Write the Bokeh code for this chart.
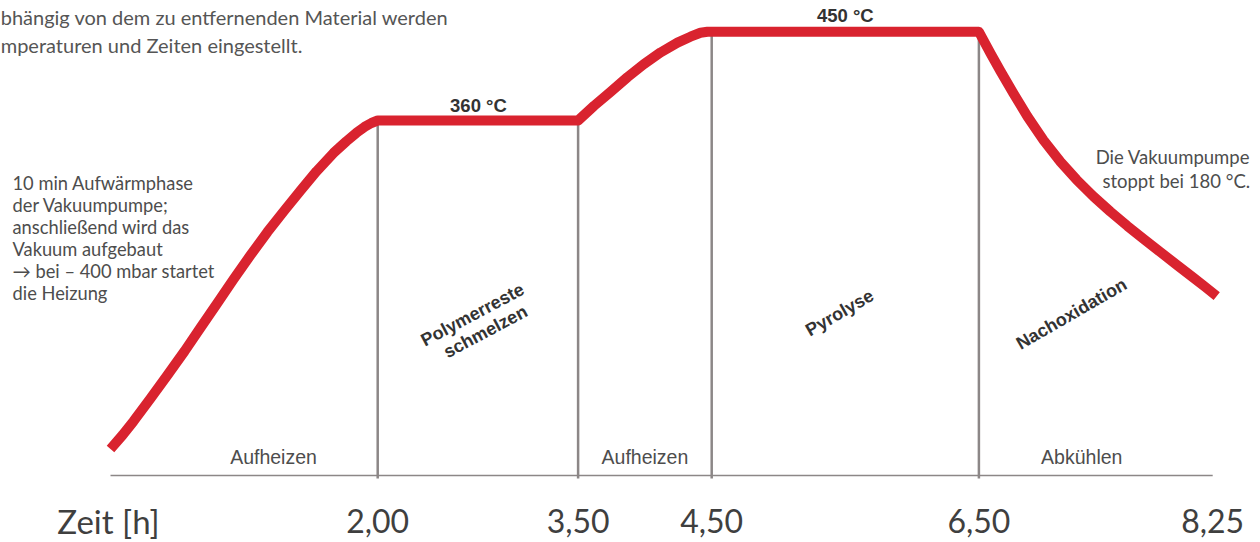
from bokeh.plotting import figure
from bokeh.models import Range1d
from bokeh.core.properties import value
from bokeh.embed import file_html
from bokeh.resources import INLINE
import math

# ---- data ----
time_h = [0.0, 0.09, 0.172, 0.299, 0.427, 0.554, 0.674, 0.801, 0.921, 1.048,
          1.175, 1.303, 1.422, 1.542, 1.669, 1.766, 1.841, 1.901, 1.953, 2.0,
          3.5, 3.62, 3.743, 3.87, 3.99, 4.117, 4.244, 4.341, 4.416, 4.468, 4.5,
          6.5, 6.587, 6.662, 6.759, 6.864, 6.984, 7.111, 7.231, 7.358, 7.485,
          7.612, 7.732, 7.859, 7.987, 8.106, 8.196, 8.28]
temp_c = [27, 41, 55, 78, 102, 126, 150, 175, 199, 223.5,
          247, 269, 289, 308.5, 327, 339, 347.5, 353.5, 357.5, 360,
          360, 375, 389, 404, 417, 429, 439, 445, 449, 450, 450,
          450, 428, 410, 387.5, 364, 340, 318, 300, 283, 267.5,
          253, 240, 226.5, 213, 200.5, 191, 182]

boundaries = [2.0, 3.5, 4.5, 6.5]
boundary_temps = [360, 360, 450, 450]

tick_values = [2.00, 3.50, 4.50, 6.50, 8.25]
tick_labels = ["2,00", "3,50", "4,50", "6,50", "8,25"]
axis_start = 0.0
axis_end = 8.25

plateau_labels = ["360 °C", "450 °C"]
plateau_x = [2.754, 5.5]
plateau_y = [375, 466]

phase_labels = ["Aufheizen", "Aufheizen", "Abkühlen"]
phase_x = [1.22, 4.0, 7.27]

rot_labels = ["Polymerreste", "schmelzen", "Pyrolyse", "Nachoxidation"]
rot_x = [2.71, 2.807, 5.457, 7.193]
rot_y = [163, 146, 165, 164]
rot_deg = [28, 28, 30, 30]

left_note = ["10 min  Aufwärmphase", "der Vakuumpumpe;", "anschließend wird das",
             "Vakuum aufgebaut", "\u2192 bei \u2013 400 mbar startet", "die Heizung"]
right_note = ["Die Vakuumpumpe", "stoppt bei 180 °C."]
top_note = ["bhängig von dem zu entfernenden Material werden",
            "mperaturen und Zeiten eingestellt."]

RED = "#D9232F"
GRAY = "#8c8787"
TXT = "#4d4d4d"
BOLD = "#333333"

p = figure(width=1260, height=542, output_backend="svg", toolbar_location=None,
           x_range=Range1d(-0.8234, 8.6078), y_range=Range1d(-67.9, 481.7),
           min_border=0, x_axis_location=None, y_axis_location=None)
p.grid.visible = False
p.outline_line_color = None
p.background_fill_color = "white"
p.border_fill_color = "white"

# baseline (time axis)
p.segment(x0=[axis_start], y0=[0], x1=[axis_end], y1=[0], line_color=GRAY, line_width=1.6)
# phase boundaries
p.segment(x0=boundaries, y0=[-3] * len(boundaries), x1=boundaries, y1=boundary_temps,
          line_color=GRAY, line_width=2.5)

# temperature curve
p.line(time_h, temp_c, line_color=RED, line_width=10, line_join="round", line_cap="butt")

# plateau labels
p.text(plateau_x, plateau_y, text=plateau_labels, text_font=value("Liberation Sans"),
       text_font_style="bold", text_font_size="18.5px", text_color=BOLD,
       text_align="center", text_baseline="middle")

# phase labels
p.text(phase_x, [19] * 3, text=phase_labels, text_font=value("Liberation Sans"),
       text_font_size="19.5px", text_color=TXT, text_align="center", text_baseline="middle")

# rotated labels
p.text(rot_x, rot_y, text=rot_labels, angle=[math.radians(a) for a in rot_deg],
       text_font=value("Liberation Sans"), text_font_style="bold", text_font_size="18px",
       text_color=BOLD, text_align="center", text_baseline="middle")

# time axis labels
p.text(tick_values, [-46.6] * len(tick_values), text=tick_labels, text_font=value("Lato"),
       text_font_size="32px", text_color="#3f3f3f", text_align="center", text_baseline="middle")
p.text([-0.015], [-46.6], text=["Zeit [h]"], text_font=value("Lato"),
       text_font_size="33px", text_color="#3f3f3f", text_align="center", text_baseline="middle")

# left annotation
left_y = [297.0 - 22.3 * i for i in range(len(left_note))]
p.text([-0.7335] * len(left_note), left_y, text=left_note, text_font=value("Lato"),
       text_font_size="18.3px", text_color=TXT, text_align="left", text_baseline="middle")

# right annotation
p.text([8.53] * 2, [322.5, 299], text=right_note, text_font=value("Lato"),
       text_font_size="18.5px", text_color=TXT, text_align="right", text_baseline="middle")

# top note
p.text([-0.822] * 2, [464.5, 437], text=top_note, text_font=value("Lato"),
       text_font_size="20px", text_color="#555555", text_align="left",
       text_baseline="alphabetic")

open("out.html", "w").write(file_html(p, INLINE))
